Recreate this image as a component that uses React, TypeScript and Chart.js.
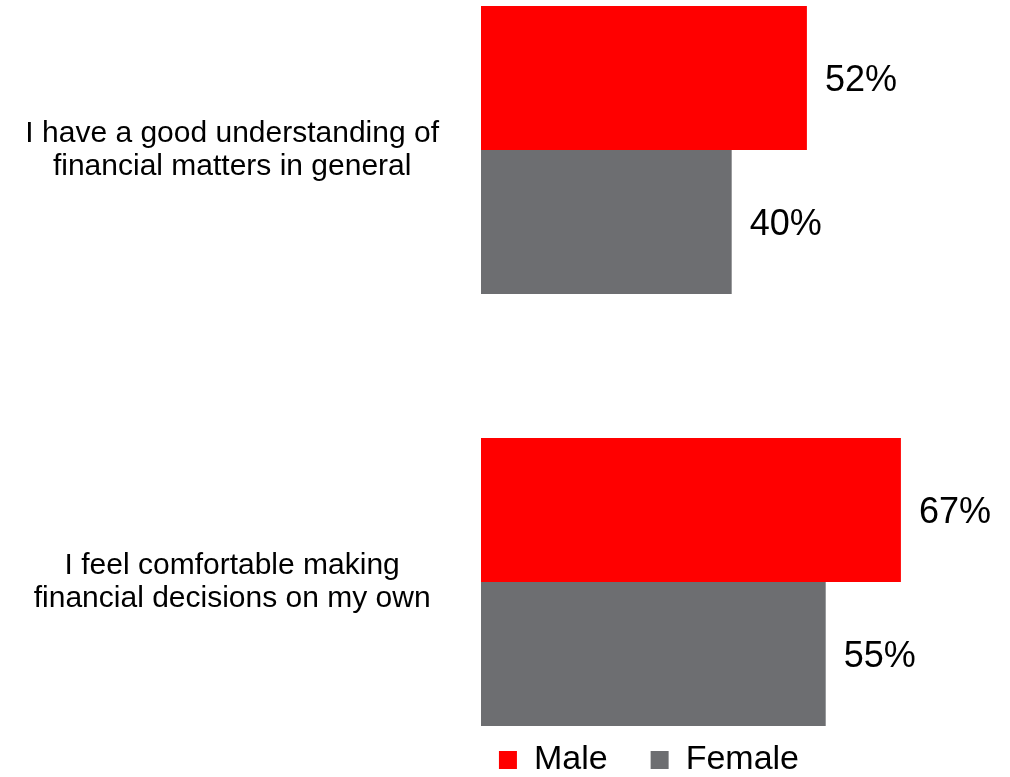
import React, { useEffect, useRef } from "react";
import { Chart, registerables } from "chart.js";

Chart.register(...registerables);

const categories: string[][] = [
  ["I have a good understanding of", "financial matters in general"],
  ["I feel comfortable making", "financial decisions on my own"],
];
const seriesNames = ["Male", "Female"];
const maleValues = [52, 67];
const femaleValues = [40, 55];
const seriesColors = ["#FF0000", "#6D6E71"];
const xMax = 57.6;

const FONT = "'Liberation Sans', Arial, Helvetica, sans-serif";

const valueLabels = {
  id: "valueLabels",
  afterDatasetsDraw(chart: any) {
    const ctx = chart.ctx;
    ctx.save();
    ctx.font = `36px ${FONT}`;
    ctx.fillStyle = "#000000";
    ctx.textAlign = "left";
    ctx.textBaseline = "middle";
    chart.data.datasets.forEach((ds: any, di: number) => {
      const meta = chart.getDatasetMeta(di);
      meta.data.forEach((bar: any, i: number) => {
        ctx.fillText(`${ds.data[i]}%`, bar.x + 18, bar.y + 3);
      });
    });
    ctx.restore();
  },
};

export default function App() {
  const canvasRef = useRef<HTMLCanvasElement | null>(null);

  useEffect(() => {
    if (!canvasRef.current) return;
    Chart.defaults.font.family = FONT;
    const chart = new Chart(canvasRef.current, {
      type: "bar",
      data: {
        labels: categories,
        datasets: [
          {
            label: seriesNames[0],
            data: maleValues,
            backgroundColor: seriesColors[0],
            borderWidth: 0,
            clip: false as any,
          },
          {
            label: seriesNames[1],
            data: femaleValues,
            backgroundColor: seriesColors[1],
            borderWidth: 0,
            clip: false as any,
          },
        ],
      },
      options: {
        indexAxis: "y",
        animation: false,
        responsive: true,
        maintainAspectRatio: false,
        categoryPercentage: 0.6667,
        barPercentage: 1,
        layout: { padding: { top: 150, right: 168, bottom: -10, left: 0 } },
        scales: {
          x: {
            type: "linear",
            min: 0,
            max: xMax,
            grid: { display: false, drawTicks: false },
            border: { display: false },
            ticks: { display: false },
            afterFit: (s: any) => {
              s.height = 118;
            },
          },
          y: {
            type: "category",
            offset: false,
            grid: { display: false, drawTicks: false },
            border: { display: false },
            ticks: {
              crossAlign: "center",
              padding: 42,
              color: "#000000",
              font: { size: 30, lineHeight: 1.1, family: FONT },
              autoSkip: false,
            },
            afterFit: (s: any) => {
              s.width = 481;
            },
          },
        },
        plugins: {
          legend: {
            position: "bottom",
            align: "end",
            labels: {
              boxWidth: 18,
              boxHeight: 18,
              padding: 43,
              color: "#000000",
              font: { size: 34, family: FONT },
            },
          },
          tooltip: { enabled: false },
          title: { display: false },
        },
      } as any,
      plugins: [valueLabels],
    });
    return () => chart.destroy();
  }, []);

  return (
    <div style={{ position: "absolute", left: 0, top: 0, width: 1010, height: 777, background: "#ffffff" }}>
      <canvas ref={canvasRef} />
    </div>
  );
}
